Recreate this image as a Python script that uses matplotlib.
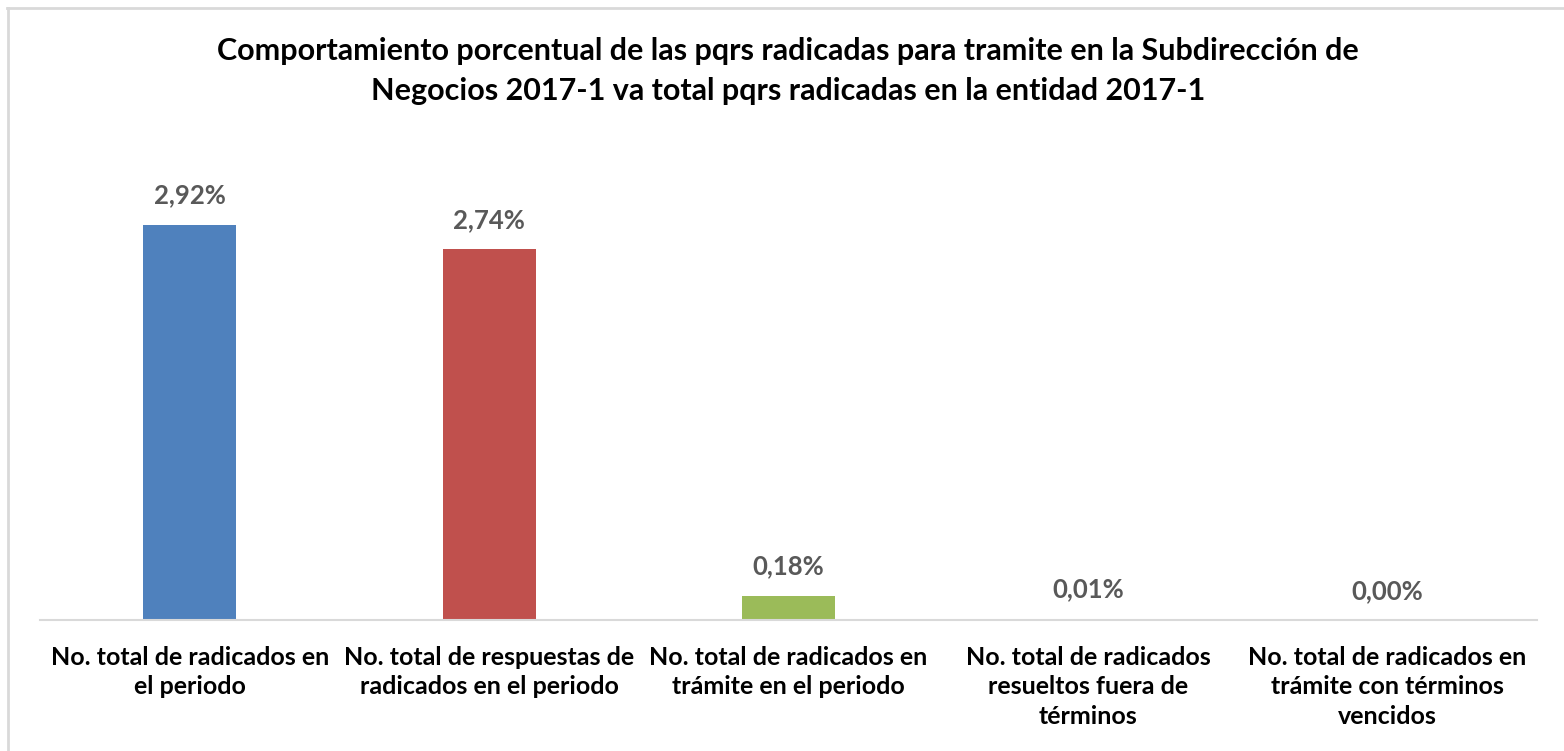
import matplotlib
matplotlib.use("Agg")
from matplotlib import pyplot as plt
from matplotlib.lines import Line2D

# data
categories = [
    "No. total de radicados en\nel periodo",
    "No. total de respuestas de\nradicados en el periodo",
    "No. total de radicados en\ntrámite en el periodo",
    "No. total de radicados\nresueltos fuera de\ntérminos",
    "No. total de radicados en\ntrámite con términos\nvencidos",
]
values = [2.92, 2.74, 0.18, 0.01, 0.00]
value_labels = ["2,92%", "2,74%", "0,18%", "0,01%", "0,00%"]
colors = ["#4F81BD", "#C0504D", "#9BBB59", "#8064A2", "#4BACC6"]

title = ("Comportamiento porcentual de las pqrs radicadas para tramite en la Subdirección de\n"
         "Negocios 2017-1 va total pqrs radicadas en la entidad 2017-1")

plt.rcParams['font.family'] = ['Lato', 'DejaVu Sans']

W, H = 1564, 751
fig = plt.figure(figsize=(W / 100, H / 100), dpi=100)

# axes: x from 40 to 1537 px, baseline at y=620 px, top at 146 px
ax = fig.add_axes([40 / W, (H - 620) / H, (1537 - 40) / W, (620 - 146) / H])
x = list(range(len(values)))
ax.bar(x, values, width=0.31, color=colors, zorder=2)
ax.set_xlim(-0.5, len(values) - 0.5)
ax.set_ylim(0, 3.5)

for xi, v, lab in zip(x, values, value_labels):
    ax.annotate(lab, (xi, v), xytext=(0, 21), textcoords="offset points",
                ha="center", va="center", fontsize=18.5, fontweight="bold",
                color="#595959")

for s in ["top", "left", "right"]:
    ax.spines[s].set_visible(False)
ax.spines["bottom"].set_color("#D9D9D9")
ax.spines["bottom"].set_linewidth(1.5)
ax.set_yticks([])
ax.set_xticks(x)
ax.set_xticklabels(categories, fontsize=18, fontweight="bold", color="black",
                   linespacing=1.32)
ax.tick_params(axis="x", length=0, pad=19)

fig.text(788 / W, 1 - 71 / H, title, ha="center", va="center", fontsize=22,
         fontweight="bold", color="black", linespacing=1.55)

# chart frame (top and left edges visible)
fig.add_artist(Line2D([7 / W, 1], [1 - 8 / H, 1 - 8 / H], color="#D9D9D9", lw=2,
                      transform=fig.transFigure))
fig.add_artist(Line2D([8 / W, 8 / W], [0, 1 - 8 / H], color="#D9D9D9", lw=2,
                      transform=fig.transFigure))

fig.savefig("out.png", dpi=100)
